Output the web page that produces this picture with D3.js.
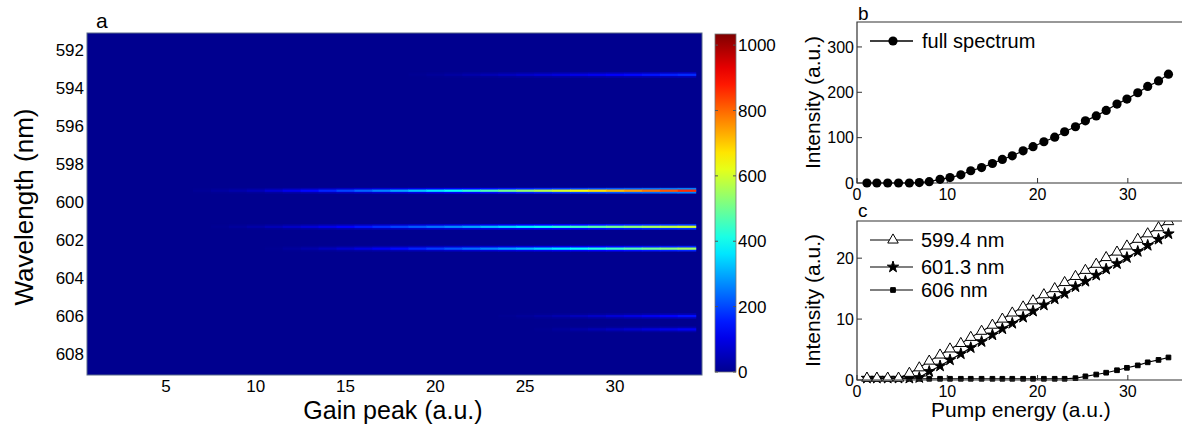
<!DOCTYPE html>
<html>
  <head>
    <meta charset="utf-8">
    <title>Lasing spectra vs gain / pump</title>
    <script src="https://cdnjs.cloudflare.com/ajax/libs/d3/7.8.5/d3.min.js" charset="utf-8"></script>
    <style>
 body { margin: 0; background: white; }
 text { font-family: "Liberation Sans", Arial, sans-serif; fill: black; }
 .tick-a { font-size: 17px; }
 .tick-bc { font-size: 16px; }
 .axis-label { font-size: 25px; }
 .axis-label-small { font-size: 21px; }
 .legend { font-size: 20px; }
 .panel { font-size: 21px; }
    </style>
  </head>
  <body>
    <svg id="viz" width="1182" height="425"></svg>
    <script>

// ---- panel a: heat map, gain peak vs wavelength ----

var gainPeak = [1,2,3,4,5,6,7,8,9,10,11,12,13,14,15,16,17,18,19,20,21,22,23,24,25,26,27,28,29,30,31,32,33,34];
var peakWavelength = [593.3, 599.4, 601.3, 602.45, 606.0, 606.7];

// intensity of each emission line at every gain step (a.u.)
var line593 = [0,0,0,0,0,0,0,0,0,0,0,0,0,0,0,0,0,0,5,12,20,30,40,52,64,76,88,100,112,124,136,148,160,172];
var line599 = [0,0,0,0,0,0,8,18,30,45,75,105,135,165,197,230,262,295,330,362,395,430,465,500,535,570,605,640,675,710,745,785,820,860];
var line601 = [0,0,0,0,0,0,0,5,15,28,44,62,82,103,125,148,172,196,220,245,270,296,322,348,374,400,426,452,478,504,530,555,580,600];
var line602 = [0,0,0,0,0,0,0,0,0,0,5,15,30,48,68,90,113,137,162,188,214,240,266,292,318,344,370,396,422,448,474,500,525,550];
var line606 = [0,0,0,0,0,0,0,0,0,0,0,0,0,0,0,0,0,0,0,0,0,0,0,5,12,22,34,48,62,78,94,110,126,142];
var line6067 = [0,0,0,0,0,0,0,0,0,0,0,0,0,0,0,0,0,0,0,0,0,0,0,0,0,5,14,26,40,55,70,86,102,118];
var lineIntensity = [line593, line599, line601, line602, line606, line6067];

var wavelengthTicks = [592,594,596,598,600,602,604,606,608];
var gainTicks = [5,10,15,20,25,30];
var colorTicks = [0,200,400,600,800,1000];

// ---- panels b and c: intensity vs pump energy ----

var pumpEnergy = [1.1,2.2,3.4,4.6,5.8,6.9,8.0,9.2,10.3,11.5,12.6,13.8,15.0,16.1,17.2,18.4,19.5,20.7,21.9,23.0,24.2,25.3,26.5,27.6,28.8,29.9,31.1,32.2,33.4,34.5];
var fullSpectrum = [0,0,0,0,0,1,3,8,12,18,27,34,43,52,60,71,80,91,101,113,124,137,148,160,174,185,199,213,225,240];
var int599 = [0.3,0.3,0.3,0.3,1.1,2.0,3.1,4.1,5.1,6.0,7.0,8.0,9.0,10.0,11.0,12.0,13.0,14.0,15.0,16.0,17.0,18.0,19.0,20.1,21.0,22.0,23.1,24.0,25.0,26.0];
var int601 = [0.3,0.3,0.3,0.3,0.3,0.4,1.4,2.3,3.3,4.3,5.3,6.3,7.4,8.4,9.3,10.3,11.3,12.3,13.3,14.2,15.3,16.2,17.2,18.2,19.1,20.1,21.1,22.1,23.1,24.0];
var int606 = [0.2,0.2,0.2,0.2,0.2,0.2,0.2,0.2,0.2,0.2,0.2,0.2,0.2,0.2,0.2,0.2,0.2,0.2,0.2,0.2,0.3,0.6,0.9,1.2,1.6,2.0,2.4,2.9,3.3,3.7];

var pumpTicks = [0,10,20,30];
var fullTicks = [0,100,200,300];
var lineTicks = [0,10,20];

window.addEventListener("load", run);

function run () {
    var svg = d3.select("#viz");
    drawHeatmap(svg);
    drawPanelB(svg);
    drawPanelC(svg);
}

// jet colormap as used by the original figure
function jet (maxValue) {
    return d3.scaleLinear()
	.domain([0, 1/8, 3/8, 5/8, 7/8, 1].map(function(f) { return f*maxValue; }))
	.range(["#00008f", "#0000ff", "#00ffff", "#ffff00", "#ff0000", "#800000"])
	.clamp(true);
}

function drawHeatmap (svg) {
    var left = 87, right = 702, top = 33, bottom = 375;

    var x = d3.scaleLinear().domain([0.6, 34.85]).range([left, right]);
    var y = d3.scaleLinear().domain([591.1, 609.1]).range([top, bottom]);
    var color = jet(1034);

    svg.append("clipPath").attr("id", "clip-a")
	.append("rect")
	.attr("x", left).attr("y", top)
	.attr("width", right-left).attr("height", bottom-top);

    var g = svg.append("g").attr("clip-path", "url(#clip-a)");

    // background: zero intensity everywhere
    g.append("rect")
	.attr("x", left).attr("y", top)
	.attr("width", right-left).attr("height", bottom-top)
	.attr("fill", color(0));

    // one row of cells per emission line, with a faint halo around it
    peakWavelength.forEach(function(wl, k) {
	var cells = gainPeak.map(function(gp, i) { return { gain: gp, value: lineIntensity[k][i] }; })
	    .filter(function(c) { return c.value > 0; });

	g.selectAll(null)
	    .data(cells)
	    .enter().append("rect")
	    .attr("x", function(c) { return x(c.gain-0.5); })
	    .attr("width", function(c) { return x(c.gain+0.5)-x(c.gain-0.5)+0.5; })
	    .attr("y", y(wl-0.15))
	    .attr("height", y(wl+0.15)-y(wl-0.15))
	    .attr("fill", function(c) { return color(c.value*0.3); });

	g.selectAll(null)
	    .data(cells)
	    .enter().append("rect")
	    .attr("x", function(c) { return x(c.gain-0.5); })
	    .attr("width", function(c) { return x(c.gain+0.5)-x(c.gain-0.5)+0.5; })
	    .attr("y", y(wl-0.06))
	    .attr("height", y(wl+0.06)-y(wl-0.06))
	    .attr("fill", function(c) { return color(c.value); });
    });

    svg.append("rect")
	.attr("x", left).attr("y", top)
	.attr("width", right-left).attr("height", bottom-top)
	.attr("fill", "none")
	.attr("stroke", "#5a6a8a")
	.attr("stroke-width", 1);

    // axes
    svg.selectAll(null)
	.data(wavelengthTicks)
	.enter().append("text")
	.attr("class", "tick-a")
	.attr("x", left-3)
	.attr("y", function(d) { return y(d); })
	.attr("dy", "0.36em")
	.style("text-anchor", "end")
	.text(function(d) { return d; });

    svg.selectAll(null)
	.data(gainTicks)
	.enter().append("text")
	.attr("class", "tick-a")
	.attr("x", function(d) { return x(d); })
	.attr("y", 392)
	.style("text-anchor", "middle")
	.text(function(d) { return d; });

    svg.append("text")
	.attr("class", "axis-label")
	.attr("x", 393).attr("y", 419)
	.style("text-anchor", "middle")
	.text("Gain peak (a.u.)");

    svg.append("text")
	.attr("class", "axis-label")
	.attr("transform", "translate(33,207) rotate(-90)")
	.style("text-anchor", "middle")
	.style("font-size", "26px")
	.text("Wavelength (nm)");

    svg.append("text")
	.attr("class", "panel")
	.attr("x", 96).attr("y", 28)
	.text("a");

    // colour bar
    var cbLeft = 715, cbRight = 736, cbTop = 34, cbBottom = 372;
    var cy = d3.scaleLinear().domain([0, 1034]).range([cbBottom, cbTop]);

    var grad = svg.append("defs").append("linearGradient")
	.attr("id", "jet-grad")
	.attr("x1", 0).attr("y1", 1).attr("x2", 0).attr("y2", 0);

    grad.selectAll("stop")
	.data(d3.range(0, 1.0001, 0.05))
	.enter().append("stop")
	.attr("offset", function(f) { return f; })
	.attr("stop-color", function(f) { return color(f*1034); });

    svg.append("rect")
	.attr("x", cbLeft).attr("y", cbTop)
	.attr("width", cbRight-cbLeft).attr("height", cbBottom-cbTop)
	.attr("fill", "url(#jet-grad)")
	.attr("stroke", "#777")
	.attr("stroke-width", 0.8);

    var cbTick = svg.selectAll(null)
	.data(colorTicks)
	.enter().append("g");

    cbTick.append("line")
	.attr("x1", cbLeft).attr("x2", cbLeft+3)
	.attr("y1", function(d) { return cy(d); }).attr("y2", function(d) { return cy(d); })
	.attr("stroke", "#555");

    cbTick.append("line")
	.attr("x1", cbRight-3).attr("x2", cbRight)
	.attr("y1", function(d) { return cy(d); }).attr("y2", function(d) { return cy(d); })
	.attr("stroke", "#555");

    cbTick.append("text")
	.attr("class", "tick-a")
	.attr("x", cbRight+2)
	.attr("y", function(d) { return cy(d); })
	.attr("dy", "0.36em")
	.text(function(d) { return d; });
}

// shared frame for the two small panels on the right
function drawFrame (svg, x, y, yTicks, xLabelY, panelLetter, letterY) {
    var r = x.range(), yr = y.range();
    var g = svg.append("g");

    g.append("path")
	.attr("d", "M" + (r[1]+2) + "," + yr[1] + "H" + r[0] + "V" + yr[0] + "H" + (r[1]+2))
	.attr("fill", "none")
	.attr("stroke", "#333")
	.attr("stroke-width", 1.2);

    g.selectAll(null)
	.data(pumpTicks)
	.enter().append("line")
	.attr("x1", function(d) { return x(d); }).attr("x2", function(d) { return x(d); })
	.attr("y1", yr[0]).attr("y2", yr[0]-5)
	.attr("stroke", "#333");

    g.selectAll(null)
	.data(yTicks)
	.enter().append("line")
	.attr("x1", r[0]).attr("x2", r[0]+5)
	.attr("y1", function(d) { return y(d); }).attr("y2", function(d) { return y(d); })
	.attr("stroke", "#333");

    g.selectAll(null)
	.data(pumpTicks)
	.enter().append("text")
	.attr("class", "tick-bc")
	.attr("x", function(d) { return x(d); })
	.attr("y", xLabelY)
	.style("text-anchor", "middle")
	.text(function(d) { return d; });

    g.selectAll(null)
	.data(yTicks)
	.enter().append("text")
	.attr("class", "tick-bc")
	.attr("x", r[0]-3)
	.attr("y", function(d) { return y(d); })
	.attr("dy", "0.36em")
	.style("text-anchor", "end")
	.text(function(d) { return d; });

    g.append("text")
	.attr("class", "axis-label-small")
	.attr("transform", "translate(820," + ((yr[0]+yr[1])/2) + ") rotate(-90)")
	.style("text-anchor", "middle")
	.text("Intensity (a.u.)");

    g.append("text")
	.attr("class", "panel")
	.style("font-size", "19px")
	.attr("x", 858).attr("y", letterY)
	.text(panelLetter);
}

function drawPanelB (svg) {
    var x = d3.scaleLinear().domain([0, 36]).range([857, 1182]);
    var y = d3.scaleLinear().domain([0, 355]).range([183, 22]);

    drawFrame(svg, x, y, fullTicks, 200, "b", 20);

    var pts = pumpEnergy.map(function(p, i) { return [p, fullSpectrum[i]]; });

    svg.append("path")
	.attr("d", d3.line().x(function(d) { return x(d[0]); }).y(function(d) { return y(d[1]); })(pts))
	.attr("fill", "none")
	.attr("stroke", "black")
	.attr("stroke-width", 1.2);

    svg.selectAll(null)
	.data(pts)
	.enter().append("circle")
	.attr("cx", function(d) { return x(d[0]); })
	.attr("cy", function(d) { return y(d[1]); })
	.attr("r", 4.6)
	.attr("fill", "black");

    // legend
    svg.append("line")
	.attr("x1", 870).attr("x2", 913).attr("y1", 41).attr("y2", 41)
	.attr("stroke", "black").attr("stroke-width", 1.5);
    svg.append("circle")
	.attr("cx", 893).attr("cy", 41).attr("r", 4.6).attr("fill", "black");
    svg.append("text")
	.attr("class", "legend")
	.attr("x", 922).attr("y", 41).attr("dy", "0.36em")
	.text("full spectrum");
}

function drawPanelC (svg) {
    var x = d3.scaleLinear().domain([0, 36]).range([857, 1182]);
    var y = d3.scaleLinear().domain([0, 26.1]).range([380, 221]);

    svg.append("clipPath").attr("id", "clip-c")
	.append("rect")
	.attr("x", 850).attr("y", 221)
	.attr("width", 340).attr("height", 170);

    var series = [
	{ name: "599.4 nm", values: int599, symbol: d3.symbolTriangle, size: 48, fill: "white" },
	{ name: "601.3 nm", values: int601, symbol: d3.symbolStar, size: 40, fill: "black" },
	{ name: "606 nm", values: int606, symbol: d3.symbolSquare, size: 22, fill: "black" }
    ];

    var plot = svg.append("g").attr("clip-path", "url(#clip-c)");

    // draw the lower series first so the open triangles sit on top
    series.slice().reverse().forEach(function(s) {
	var pts = pumpEnergy.map(function(p, i) { return [p, s.values[i]]; });

	plot.append("path")
	    .attr("d", d3.line().x(function(d) { return x(d[0]); }).y(function(d) { return y(d[1]); })(pts))
	    .attr("fill", "none")
	    .attr("stroke", "black")
	    .attr("stroke-width", 1.1);

	plot.selectAll(null)
	    .data(pts)
	    .enter().append("path")
	    .attr("transform", function(d) { return "translate(" + x(d[0]) + "," + y(d[1]) + ")"; })
	    .attr("d", d3.symbol().type(s.symbol).size(s.size))
	    .attr("fill", s.fill)
	    .attr("stroke", "black")
	    .attr("stroke-width", 1);
    });

    drawFrame(svg, x, y, lineTicks, 397, "c", 217);

    // legend
    var legendY = [240, 267, 290];
    series.forEach(function(s, i) {
	svg.append("line")
	    .attr("x1", 870).attr("x2", 913).attr("y1", legendY[i]).attr("y2", legendY[i])
	    .attr("stroke", "black").attr("stroke-width", 1.2);
	svg.append("path")
	    .attr("transform", "translate(893," + legendY[i] + ")")
	    .attr("d", d3.symbol().type(s.symbol).size(s.size))
	    .attr("fill", s.fill)
	    .attr("stroke", "black")
	    .attr("stroke-width", 1);
	svg.append("text")
	    .attr("class", "legend")
	    .attr("x", 921).attr("y", legendY[i]).attr("dy", "0.36em")
	    .text(s.name);
    });

    svg.append("text")
	.attr("class", "axis-label-small")
	.attr("x", 1021).attr("y", 417)
	.style("text-anchor", "middle")
	.text("Pump energy (a.u.)");
}

    </script>
  </body>
</html>
